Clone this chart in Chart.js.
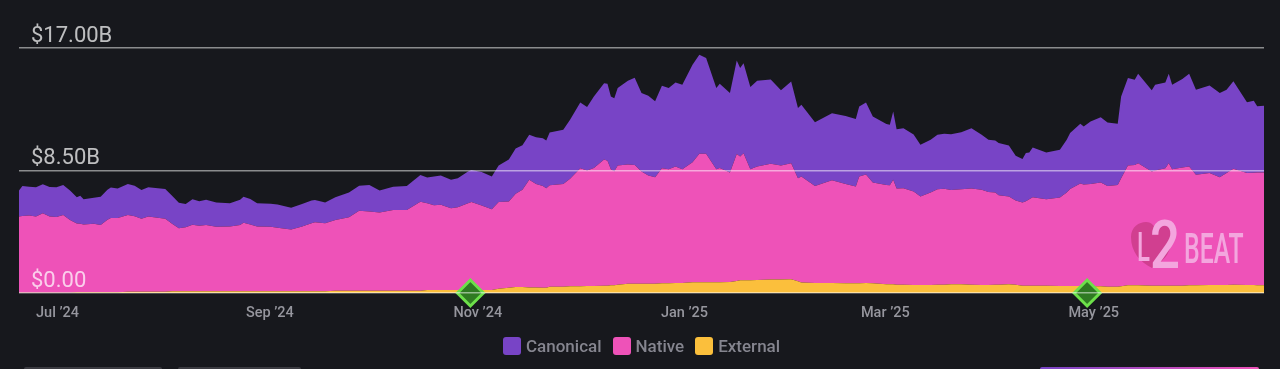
<!DOCTYPE html>
<html lang="en">
    <head>
        <title>L2BEAT TVS</title>
        <meta charset="utf-8">
        <style>
            html, body { margin: 0; width: 1280px; height: 369px; overflow: hidden; background: #17181d; }
            #wrap { position: relative; width: 1280px; height: 369px; }
            #legend { position: absolute; top: 335px; left: 503px; display: flex; font: 500 17px Roboto, sans-serif; color: #85858f; line-height: 22px; }
            #legend div { display: flex; align-items: center; margin-right: 11px; }
            #legend i { width: 18px; height: 18px; border-radius: 3px; margin-right: 5px; display: block; }
            .strip { position: absolute; top: 367px; height: 2px; border-radius: 3px 3px 0 0; background: #3b3b41; }
            #logo { position: absolute; left: 1128px; top: 218px; width: 125px; height: 56px; }
            #logo span { position: absolute; color: #f3a6de; white-space: nowrap; font-family: Roboto, sans-serif; font-weight: 500; transform-origin: 0 0; }
        </style>
        <script src="https://cdn.jsdelivr.net/npm/chart.js@4/dist/chart.umd.min.js"></script>
    </head>

    <body>
        <div id="wrap">
            <canvas id="myChart" width="1280" height="369"></canvas>
            <div id="logo">
                <svg width="50" height="56" style="position:absolute;left:0;top:0"><path d="M24 50 C12 44 3 34 3 19 C3 9 11 4 18 4 C24 4 27 9 29 13 C32 8 36 6 41 7 C47 9 46 24 41 33 C37 42 30 46 24 50 Z" fill="#d13f90"/></svg>
                <span style="left:9px;top:10px;font-size:40px;line-height:40px;transform:scaleX(.6)">L</span>
                <span style="left:22px;top:-5px;font-size:66px;line-height:66px;transform:scaleX(.8)">2</span>
                <span style="left:56px;top:10px;font-size:42px;line-height:42px;transform:scaleX(.59)">BEAT</span>
            </div>
            <div id="legend"></div>
            <div class="strip" style="left:24px;width:138px"></div>
            <div class="strip" style="left:178px;width:123px"></div>
            <div class="strip" style="left:1040px;width:219px;background:linear-gradient(90deg,#7844c6,#ee52b8)"></div>
        </div>

        <script>

            // days since 26 Jun 2024, values in $B
            const days = [0,1,3,5,7,9,11,13,15,17,18,19,22,24,26,27,29,32,34,36,38,43,45,47,49,51,53,55,58,62,65,66,68,70,74,76,80,83,86,87,90,93,97,100,103,106,110,114,118,120,122,124,127,129,132,133,136,139,141,144,146,148,150,152,154,155,156,160,162,165,167,169,172,173,174,175,176,179,181,183,185,187,189,191,193,195,198,200,202,205,206,209,211,212,213,215,217,221,224,227,229,230,234,239,243,246,247,249,251,255,256,257,258,260,263,265,268,270,272,274,277,280,283,285,287,288,291,293,295,296,297,298,302,306,308,309,312,313,315,318,320,323,324,326,328,329,333,334,337,338,339,342,344,346,350,353,355,357,361,363,364,366];

            const canonical = [1.81,2.08,2.01,2.04,2.01,2.06,2.06,2.08,2.04,1.83,1.95,1.76,1.81,1.97,2.08,2.11,2.04,2.15,2.13,1.99,2.04,2.06,1.95,1.76,1.60,1.78,1.71,1.76,1.69,1.62,1.76,1.81,1.78,1.62,1.60,1.62,1.51,1.57,1.57,1.55,1.44,1.57,1.71,1.74,1.85,1.53,1.62,1.67,1.85,1.78,1.99,2.04,1.97,2.01,2.20,2.22,2.32,2.27,2.52,2.92,3.15,3.10,3.13,3.24,3.31,3.31,3.66,3.75,4.10,4.56,4.40,4.96,5.30,5.35,5.05,5.07,5.37,5.81,6.04,5.44,5.54,5.26,5.72,5.63,5.84,5.86,6.76,6.88,6.65,5.63,5.84,5.51,6.48,6.14,6.25,5.70,5.95,5.84,5.21,5.67,4.86,4.98,4.42,4.66,4.72,4.68,4.86,5.00,4.59,4.22,4.19,4.75,4.12,4.17,3.96,3.59,3.66,3.78,3.82,3.87,3.96,4.19,3.82,3.64,3.61,3.61,3.54,3.10,3.01,3.34,3.24,3.45,3.24,3.31,3.66,3.89,4.15,4.03,4.33,4.54,4.40,4.24,5.67,6.07,5.91,6.21,5.63,5.95,5.95,6.21,5.86,6.14,6.44,5.91,6.07,5.84,5.79,6.07,4.91,5.00,4.59,4.63];

            const native = [5.28,5.33,5.35,5.28,5.51,5.28,5.26,5.40,5.05,4.77,4.75,4.70,4.75,4.66,5.03,5.16,5.16,5.33,5.23,5.07,5.21,5.07,4.68,4.38,4.45,4.61,4.54,4.59,4.47,4.49,4.59,4.75,4.63,4.49,4.47,4.40,4.28,4.47,4.72,4.79,4.72,4.91,5.10,5.54,5.49,5.42,5.60,5.60,6.18,6.02,5.88,5.91,5.67,5.74,6.02,6.11,5.86,5.60,6.02,5.98,6.46,6.74,7.46,7.18,7.06,6.90,7.04,7.13,7.46,8.20,8.01,8.18,8.75,8.66,8.06,7.92,8.27,8.27,8.24,7.78,7.50,7.39,7.99,7.92,8.08,7.90,8.34,8.92,8.92,7.85,7.94,7.60,8.82,8.59,8.82,7.71,7.87,8.04,7.92,8.06,7.16,7.36,6.74,7.13,6.90,6.72,7.41,7.53,6.99,6.90,6.88,7.25,6.67,6.69,6.48,6.14,6.42,6.62,6.65,6.55,6.60,6.67,6.60,6.44,6.39,6.21,6.09,5.84,5.77,5.86,6.00,6.14,6.00,6.14,6.48,6.72,7.11,7.06,7.11,7.20,6.99,7.06,7.50,8.31,8.36,8.48,7.92,7.99,8.15,8.50,8.08,8.20,8.24,7.67,7.76,7.48,7.76,8.04,7.76,7.78,7.83,7.83];

            const external = [.02,.02,.02,.02,.02,.02,.02,.02,.02,.05,.05,.05,.05,.05,.05,.05,.05,.09,.09,.09,.09,.09,.12,.12,.12,.12,.12,.12,.12,.12,.12,.12,.12,.12,.12,.12,.12,.12,.12,.12,.12,.16,.16,.16,.16,.16,.16,.16,.16,.21,.21,.21,.21,.21,.21,.21,.21,.21,.30,.37,.42,.42,.39,.39,.37,.37,.44,.44,.46,.46,.49,.49,.51,.51,.53,.53,.58,.65,.65,.65,.65,.65,.67,.67,.69,.69,.74,.74,.74,.74,.74,.76,.83,.88,.88,.88,.90,.93,.93,.95,.81,.72,.69,.69,.67,.67,.67,.69,.67,.60,.60,.60,.58,.58,.56,.56,.56,.58,.58,.60,.60,.58,.56,.56,.58,.58,.60,.58,.51,.51,.51,.51,.51,.49,.49,.49,.49,.46,.46,.46,.44,.44,.46,.53,.53,.53,.51,.51,.51,.51,.51,.51,.53,.53,.56,.56,.56,.58,.56,.56,.53,.53];

            const tickDays = [5, 66.7, 127.7, 188.7, 247.5, 308.5];
            const tickLabels = ["Jul '24", "Sep '24", "Nov '24", "Jan '25", "Mar '25", "May '25"].map (t => t.replace ("'", '\u2019'));
            const yTicks = [0, 8.5, 17];
            const yLabels = ['$0.00', '$8.50B', '$17.00B'];
            const eventDays = [132.7, 314];

            const seriesNames = ['Canonical', 'Native', 'External'];
            const seriesColors = ['#7844c6', '#ee52b8', '#fbbf3c'];

            const toPoints = values => values.map ((v, i) => ({ x: days[i], y: v }));

            const area = (name, values, color, fill) => ({
                label: name,
                data: toPoints (values),
                backgroundColor: color,
                borderWidth: 0,
                pointRadius: 0,
                tension: 0,
                fill: fill,
                stack: 'tvs'
            });

            new Chart (document.getElementById ('myChart'), {
                type: 'line',
                data: {
                    datasets: [
                        area (seriesNames[2], external, seriesColors[2], 'origin'),
                        area (seriesNames[1], native, seriesColors[1], '-1'),
                        area (seriesNames[0], canonical, seriesColors[0], '-1'),
                        {
                            label: 'Events',
                            data: eventDays.map (d => ({ x: d, y: 0 })),
                            showLine: false,
                            stack: 'events',
                            order: -1,
                            clip: false,
                            pointStyle: 'rectRot',
                            pointRadius: 13,
                            pointBackgroundColor: '#2f7a22',
                            pointBorderColor: '#6de04a',
                            pointBorderWidth: 3
                        }
                    ]
                },
                options: {
                    responsive: false,
                    animation: false,
                    layout: { padding: { left: 19, right: 15, top: 48, bottom: 0 } },
                    plugins: { legend: { display: false }, tooltip: { enabled: false } },
                    scales: {
                        x: {
                            type: 'linear',
                            min: 0,
                            max: 366,
                            border: { display: false },
                            grid: { display: false },
                            afterBuildTicks: scale => { scale.ticks = tickDays.map (d => ({ value: d })); },
                            afterFit: scale => { scale.height = 76; },
                            ticks: {
                                autoSkip: false,
                                maxRotation: 0,
                                align: 'start',
                                padding: 4,
                                color: '#96969e',
                                font: { family: 'Roboto', size: 14.5, weight: '500' },
                                callback: (v, i) => tickLabels[i]
                            }
                        },
                        y: {
                            stacked: true,
                            min: 0,
                            max: 17,
                            border: { display: false },
                            grid: { color: 'rgba(255,255,255,0.5)', lineWidth: 1.5, drawTicks: false, z: 1 },
                            afterBuildTicks: scale => { scale.ticks = yTicks.map (v => ({ value: v })); },
                            afterFit: scale => { scale.width = 0; },
                            ticks: {
                                mirror: true,
                                padding: 12,
                                labelOffset: -12,
                                z: 1,
                                color: 'rgba(255,255,255,0.72)',
                                font: { family: 'Roboto', size: 22 },
                                callback: (v, i) => yLabels[i]
                            }
                        }
                    }
                }
            });

            document.getElementById ('legend').innerHTML = seriesNames
                .map ((n, i) => `<div><i style="background:${ seriesColors[i] }"></i>${ n }</div>`)
                .join ('');

        </script>
    </body>
</html>
